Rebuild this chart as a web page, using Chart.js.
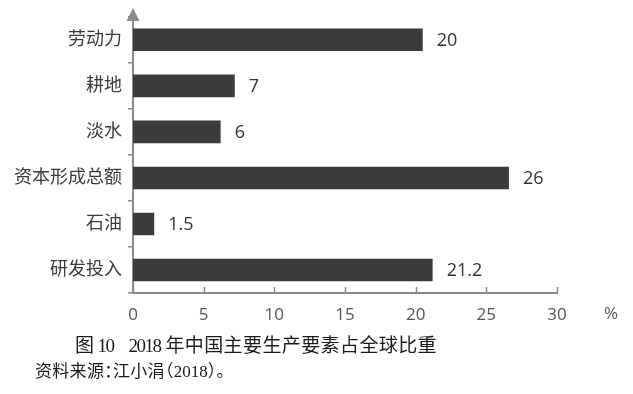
<!DOCTYPE html>
<html><head><meta charset="utf-8">
<script src="https://cdn.jsdelivr.net/npm/chart.js@4"></script>
<style>
html,body{margin:0;padding:0;background:#fff;}
#wrap{position:relative;width:633px;height:394px;overflow:hidden;background:#fff;}
#c{position:absolute;left:0;top:0;}
.cap{position:absolute;white-space:nowrap;color:#1a1a1a;font-family:"Liberation Serif","Noto Sans CJK SC",serif;}
#t1{left:75px;top:333px;font-size:19px;line-height:22px;}
#t1 .num{letter-spacing:-1.5px;}
#t1 .cjk{letter-spacing:0.4px;font-family:"Noto Sans CJK SC",sans-serif;}
#t2{left:35px;top:360px;font-size:17px;line-height:20px;font-feature-settings:"halt";}
#t2 .cjk{font-family:"Noto Sans CJK SC",sans-serif;letter-spacing:0.3px;}
</style></head><body>
<div id="wrap"><canvas id="c" width="633" height="394"></canvas>
<div class="cap" id="t1"><span class="cjk">图</span><span class="num" style="margin-left:3px">10</span><span class="num" style="margin-left:15px">2018</span><span class="cjk" style="margin-left:5px">年中国主要生产要素占全球比重</span></div>
<div class="cap" id="t2"><span class="cjk">资料来源：江小涓（</span><span>2018</span><span class="cjk">）。</span></div>
</div>
<script>
const categories = ["劳动力", "耕地", "淡水", "资本形成总额", "石油", "研发投入"];
const shareValues = [20.5, 7.2, 6.2, 26.6, 1.5, 21.2];
const valueLabels = ["20", "7", "6", "26", "1.5", "21.2"];
const xTickValues = [0, 5, 10, 15, 20, 25, 30];
const unitLabel = "%";

const axisColor = "#8a8a8a";
const numFont = '"Open Sans", "Noto Sans", sans-serif';
const cjkFont = '"Open Sans", "Noto Sans CJK SC", sans-serif';

const decorPlugin = {
  id: "decor",
  afterDraw(chart) {
    const ctx = chart.ctx;
    const xs = chart.scales.x;
    const area = chart.chartArea;
    ctx.save();
    ctx.strokeStyle = axisColor;
    ctx.lineWidth = 1.5;
    xTickValues.forEach(v => {
      const px = Math.round(xs.getPixelForValue(v)) + 0.5;
      ctx.beginPath();
      ctx.moveTo(px, area.bottom);
      ctx.lineTo(px, area.bottom - 6);
      ctx.stroke();
    });
    const ax = xs.getPixelForValue(0);
    ctx.lineWidth = 2;
    ctx.beginPath();
    ctx.moveTo(ax, area.top);
    ctx.lineTo(ax, 14);
    ctx.stroke();
    ctx.fillStyle = axisColor;
    ctx.beginPath();
    ctx.moveTo(ax, 8);
    ctx.lineTo(ax - 6.5, 21);
    ctx.lineTo(ax + 6.5, 21);
    ctx.closePath();
    ctx.fill();
    ctx.fillStyle = "#333";
    ctx.font = "18px " + numFont;
    ctx.textBaseline = "middle";
    ctx.textAlign = "left";
    chart.getDatasetMeta(0).data.forEach((bar, i) => {
      ctx.fillText(valueLabels[i], bar.x + 14, bar.y + 1);
    });
    ctx.fillStyle = "#555";
    ctx.font = "17px " + numFont;
    ctx.fillText(unitLabel, xs.right + 47, area.bottom + 21);
    ctx.restore();
  }
};

new Chart(document.getElementById("c"), {
  type: "bar",
  data: {
    labels: categories,
    datasets: [{
      data: shareValues,
      backgroundColor: "#3b3b3b",
      borderWidth: 0,
      categoryPercentage: 1,
      barPercentage: 0.49
    }]
  },
  options: {
    indexAxis: "y",
    responsive: false,
    animation: false,
    devicePixelRatio: 1,
    layout: { padding: { left: 0, top: 11, right: 76, bottom: 71 } },
    plugins: { legend: { display: false }, tooltip: { enabled: false }, title: { display: false } },
    scales: {
      x: {
        min: 0, max: 30,
        afterBuildTicks(s) { s.ticks = xTickValues.map(v => ({ value: v })); },
        afterFit(s) { s.height = 30; },
        ticks: { color: "#555", font: { size: 17, family: numFont }, padding: 12 },
        grid: { display: false, drawTicks: false },
        border: { display: true, color: axisColor, width: 2 }
      },
      y: {
        afterFit(s) { s.width = 133; },
        ticks: { color: "#3a3a3a", font: { size: 18, family: cjkFont }, padding: 6 },
        grid: { drawOnChartArea: false, drawTicks: true, tickLength: 5, color: axisColor, lineWidth: 1.5 },
        border: { display: true, color: axisColor, width: 2 }
      }
    }
  },
  plugins: [decorPlugin]
});
</script>
</body></html>
